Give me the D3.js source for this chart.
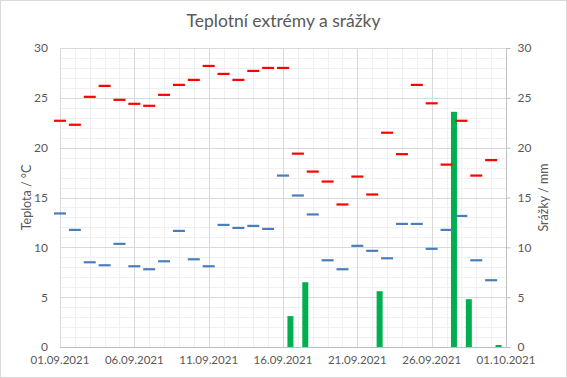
<!DOCTYPE html>
<html>
<head>
<meta charset="utf-8">
<script src="https://cdn.jsdelivr.net/npm/d3@7"></script>
<style>
  body { margin: 0; background: #fff; }
  svg text { font-family: Lato, "Open Sans", sans-serif; fill: #595959; }
</style>
</head>
<body>
<svg id="chart" width="567" height="378"></svg>
<script>
// Data: 1.9.2021 - 30.9.2021
const days = d3.range(1, 31);
const tMax = [22.7, 22.3, 25.1, 26.2, 24.8, 24.4, 24.2, 25.3, 26.3, 26.8,
              28.2, 27.4, 26.8, 27.7, 28.0, 28.0, 19.4, 17.6, 16.6, 14.3,
              17.1, 15.3, 21.5, 19.35, 26.3, 24.45, 18.3, 22.7, 17.2, 18.75];
const tMin = [13.4, 11.75, 8.5, 8.2, 10.35, 8.1, 7.8, 8.6, 11.65, 8.8,
              8.1, 12.25, 11.95, 12.15, 11.85, 17.2, 15.2, 13.3, 8.7, 7.8,
              10.15, 9.65, 8.9, 12.35, 12.35, 9.85, 11.75, 13.15, 8.7, 6.7];
const rain = [0, 0, 0, 0, 0, 0, 0, 0, 0, 0,
              0, 0, 0, 0, 0, 3.1, 6.5, 0, 0, 0,
              0, 5.6, 0, 0, 0, 0, 23.6, 4.8, 0, 0.2];
const tickDates = ["01.09.2021", "06.09.2021", "11.09.2021", "16.09.2021", "21.09.2021", "26.09.2021", "01.10.2021"];

const width = 567, height = 378;
const margin = { top: 48, right: 61, bottom: 31, left: 60 };
const svg = d3.select("#chart");

// outer border
svg.append("rect")
    .attr("x", 0.5).attr("y", 0.5)
    .attr("width", width - 1).attr("height", height - 1)
    .attr("fill", "#fff").attr("stroke", "#d9d9d9");

const x = d3.scaleLinear().domain([1, 31]).range([margin.left, width - margin.right]);
const yT = d3.scaleLinear().domain([0, 30]).range([height - margin.bottom, margin.top]);
const yR = d3.scaleLinear().domain([0, 30]).range([height - margin.bottom, margin.top]);

const grid = svg.append("g");
// minor grid
d3.range(0, 31).filter(v => v % 5 !== 0).forEach(v => {
    grid.append("line")
        .attr("x1", margin.left).attr("x2", width - margin.right)
        .attr("y1", Math.round(yT(v)) + 0.5).attr("y2", Math.round(yT(v)) + 0.5)
        .attr("stroke", "#f0f0f0");
});
d3.range(1, 32).filter(d => (d - 1) % 5 !== 0).forEach(d => {
    grid.append("line")
        .attr("x1", Math.round(x(d)) + 0.5).attr("x2", Math.round(x(d)) + 0.5)
        .attr("y1", margin.top).attr("y2", height - margin.bottom)
        .attr("stroke", "#f0f0f0");
});
// major grid
d3.range(5, 31, 5).forEach(v => {
    grid.append("line")
        .attr("x1", margin.left).attr("x2", width - margin.right)
        .attr("y1", Math.round(yT(v)) + 0.5).attr("y2", Math.round(yT(v)) + 0.5)
        .attr("stroke", "#d9d9d9");
});
d3.range(1, 32, 5).forEach(d => {
    grid.append("line")
        .attr("x1", Math.round(x(d)) + 0.5).attr("x2", Math.round(x(d)) + 0.5)
        .attr("y1", margin.top).attr("y2", height - margin.bottom)
        .attr("stroke", "#d9d9d9");
});

// precipitation bars (secondary axis, between day ticks)
svg.append("g").selectAll("rect")
    .data(days.filter((d, i) => rain[i] > 0))
    .join("rect")
    .attr("x", d => x(d + 0.5) - 3)
    .attr("width", 6)
    .attr("y", d => yR(rain[d - 1]))
    .attr("height", d => yR(0) - yR(rain[d - 1]))
    .attr("fill", "#00b050");

// axes lines
svg.append("line")
    .attr("x1", margin.left).attr("x2", width - margin.right + 4)
    .attr("y1", Math.round(yT(0)) + 0.5).attr("y2", Math.round(yT(0)) + 0.5)
    .attr("stroke", "#bfbfbf");
const rAxis = d3.axisRight(yR).tickValues(d3.range(0, 31, 5)).tickSize(4).tickPadding(7);
const rg = svg.append("g")
    .attr("transform", `translate(${Math.round(x(31)) + 0.5},0)`)
    .call(rAxis);
rg.selectAll("path, line").attr("stroke", "#bfbfbf");
rg.select(".domain").attr("d", `M0,${yR(30)}V${yR(0)}`);
rg.selectAll("text").style("font-size", "12px").attr("fill", "#595959");

const lAxis = d3.axisLeft(yT).tickValues(d3.range(0, 31, 5)).tickSize(0).tickPadding(12);
const lg = svg.append("g")
    .attr("transform", `translate(${margin.left},0)`)
    .call(lAxis);
lg.select(".domain").remove();
lg.selectAll("text").style("font-size", "12px").attr("fill", "#595959");

// date labels
svg.append("g").selectAll("text")
    .data(tickDates)
    .join("text")
    .attr("x", (t, i) => x(1 + i * 5))
    .attr("y", height - 14)
    .attr("text-anchor", "middle")
    .style("font-size", "11.5px")
    .text(t => t);

// temperature dashes
const dash = 12;
svg.append("g").selectAll("line")
    .data(days)
    .join("line")
    .attr("x1", d => x(d) - dash / 2).attr("x2", d => x(d) + dash / 2)
    .attr("y1", d => yT(tMax[d - 1])).attr("y2", d => yT(tMax[d - 1]))
    .attr("stroke", "#ff0000").attr("stroke-width", 2.2);
svg.append("g").selectAll("line")
    .data(days)
    .join("line")
    .attr("x1", d => x(d) - dash / 2).attr("x2", d => x(d) + dash / 2)
    .attr("y1", d => yT(tMin[d - 1])).attr("y2", d => yT(tMin[d - 1]))
    .attr("stroke", "#4a7ebb").attr("stroke-width", 2.2);

// title and axis titles
svg.append("text")
    .attr("x", width / 2).attr("y", 27)
    .attr("text-anchor", "middle")
    .style("font-size", "17.5px")
    .text("Teplotní extrémy a srážky");
svg.append("text")
    .attr("transform", `translate(31,${(yT(0) + yT(30)) / 2}) rotate(-90)`)
    .attr("text-anchor", "middle")
    .style("font-size", "12.5px")
    .text("Teplota / °C");
svg.append("text")
    .attr("transform", `translate(548,${(yT(0) + yT(30)) / 2}) rotate(-90)`)
    .attr("text-anchor", "middle")
    .style("font-size", "12.5px")
    .text("Srážky / mm");
</script>
</body>
</html>
